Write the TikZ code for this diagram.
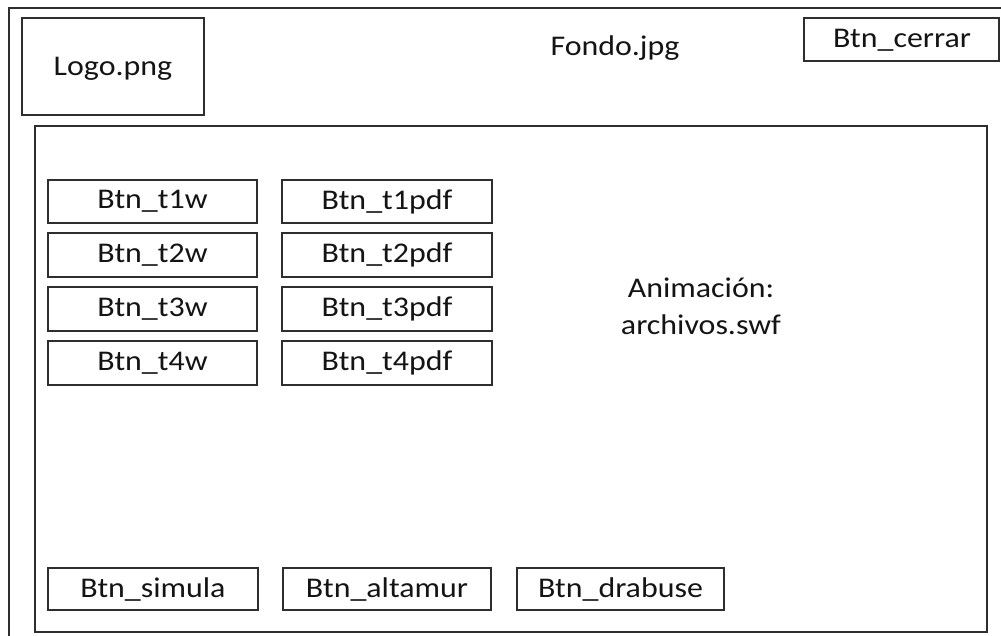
\documentclass[tikz,border=0pt]{standalone}
\usepackage{fontspec}
\setmainfont{Carlito}[FakeStretch=1.12]
\begin{document}
\begin{tikzpicture}[x=1pt,y=-1pt,
  frame/.style={draw=black!82,line width=1.3pt},
  btn/.style={draw=black!82,line width=1.1pt},
  lbl/.style={font=\fontsize{28.5}{37}\selectfont,text=black!92,inner sep=0pt,align=center}]
\useasboundingbox (0,0) rectangle (1001,636);
\clip (0,0) rectangle (1001,636);
\fill[white] (0,0) rectangle (1001,636);
% outer frame (extends past the right and bottom edges)
\draw[frame] (9,8) rectangle (1012,648);
% inner frame
\draw[frame] (35,126) rectangle (987,632);
% logo box
\draw[btn] (22,18) rectangle (204,115);
\node[lbl] (logo) at (113,69) {Logo.png};
\node[lbl] (fondo) at (615,48) {Fondo.jpg};
\draw[btn] (804,18) rectangle (999,61);
\node[lbl] (cerrar) at (902,40) {Btn\_cerrar};
\node[lbl] (anim) at (701,306) {Animación:\\archivos.swf};
% grid of buttons
\foreach \i/\ya/\yb in {1/180/223,2/233/277,3/287/331,4/341/385}{
  \draw[btn] (48,\ya) rectangle (257,\yb);
  \node[lbl] (w\i) at (152.5,{(\ya+\yb)/2}) {Btn\_t\i w};
  \draw[btn] (282,\ya) rectangle (492,\yb);
  \node[lbl] (p\i) at (387,{(\ya+\yb)/2}) {Btn\_t\i pdf};
}
% bottom buttons
\draw[btn] (48,568) rectangle (258,610);
\node[lbl] (simula) at (153,590) {Btn\_simula};
\draw[btn] (283,568) rectangle (491,610);
\node[lbl] (altamur) at (387,590) {Btn\_altamur};
\draw[btn] (517,568) rectangle (724,610);
\node[lbl] (drabuse) at (620.5,590) {Btn\_drabuse};
\end{tikzpicture}
\end{document}
